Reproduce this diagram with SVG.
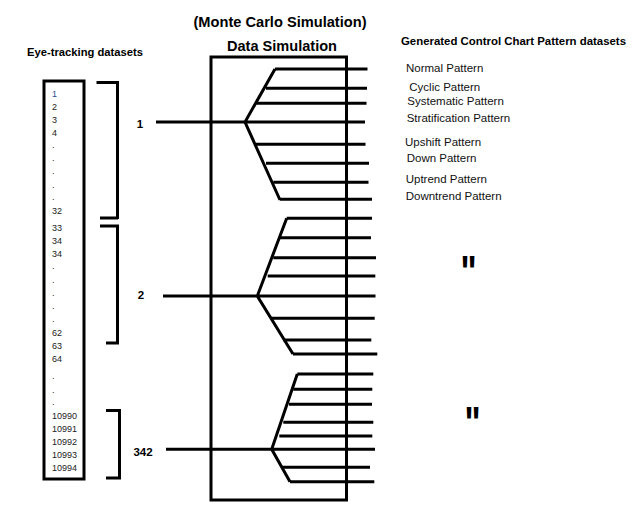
<svg xmlns="http://www.w3.org/2000/svg" width="640" height="513" viewBox="0 0 640 513">
<style>
.ln{stroke:#000;stroke-width:3;fill:none;stroke-linecap:butt}
.box{stroke:#000;stroke-width:3;fill:none}
.num{font-family:"Liberation Sans",Arial,sans-serif;font-size:9px;fill:#222}
.lab{font-family:"Liberation Sans",Arial,sans-serif;font-size:11.5px;fill:#111}
.b{font-family:"Liberation Sans",Arial,sans-serif;font-weight:bold;fill:#000}
</style>
<rect width="640" height="513" fill="#fff"/>
<g id="title">
<text class="b" x="280" y="27" font-size="15" text-anchor="middle" textLength="173" lengthAdjust="spacingAndGlyphs">(Monte Carlo Simulation)</text>
<text class="b" x="282" y="50.5" font-size="15" text-anchor="middle" textLength="110" lengthAdjust="spacingAndGlyphs">Data Simulation</text>
</g>
<g id="eye-header"><text class="b" x="27" y="56" font-size="11" textLength="116" lengthAdjust="spacingAndGlyphs">Eye-tracking datasets</text></g>
<g id="ccp-header"><text class="b" x="401" y="45" font-size="11" textLength="225" lengthAdjust="spacingAndGlyphs">Generated Control Chart Pattern datasets</text></g>
<g id="eye-list">
<rect class="box" x="44" y="81" width="40" height="398"/>
<text class="num" x="52" y="96.5" style="fill:#1f4e9a">1</text>
<text class="num" x="52" y="110">2</text>
<text class="num" x="52" y="122.5">3</text>
<text class="num" x="52" y="135.5">4</text>
<text class="num" x="52" y="148">.</text>
<text class="num" x="52" y="161">.</text>
<text class="num" x="52" y="174">.</text>
<text class="num" x="52" y="187.5">.</text>
<text class="num" x="52" y="200">.</text>
<text class="num" x="52" y="214">32</text>
<text class="num" x="52" y="230.5">33</text>
<text class="num" x="52" y="244">34</text>
<text class="num" x="52" y="256.5">34</text>
<text class="num" x="52" y="269">.</text>
<text class="num" x="52" y="282.5">.</text>
<text class="num" x="52" y="296">.</text>
<text class="num" x="52" y="309">.</text>
<text class="num" x="52" y="322">.</text>
<text class="num" x="52" y="335.5">62</text>
<text class="num" x="52" y="349">63</text>
<text class="num" x="52" y="361.5">64</text>
<text class="num" x="52" y="379">.</text>
<text class="num" x="52" y="392.5">.</text>
<text class="num" x="52" y="405">.</text>
<text class="num" x="52" y="419">10990</text>
<text class="num" x="52" y="431.5">10991</text>
<text class="num" x="52" y="445">10992</text>
<text class="num" x="52" y="457.5">10993</text>
<text class="num" x="52" y="471">10994</text>
</g>
<g id="bracket-1"><path class="ln" d="M96.5,82.5 H117.5 V219 M100,218 H118"/></g>
<g id="bracket-2"><path class="ln" d="M100,226 H117.5 V343 H106"/></g>
<g id="bracket-3"><path class="ln" d="M106,410.5 H119.5 V478 H106"/></g>
<g id="label-1"><text class="b" x="140" y="127.5" font-size="11.5" text-anchor="middle">1</text></g>
<g id="label-2"><text class="b" x="141" y="299" font-size="11.5" text-anchor="middle">2</text></g>
<g id="label-342"><text class="b" x="143" y="456" font-size="11.5" text-anchor="middle">342</text></g>
<g id="sim-box"><rect class="box" x="211" y="57" width="135.5" height="443"/></g>
<g id="patterns">
<text class="lab" x="406" y="71.8">Normal Pattern</text>
<text class="lab" x="409.3" y="90.8">Cyclic Pattern</text>
<text class="lab" x="407.3" y="104.8">Systematic Pattern</text>
<text class="lab" x="406.7" y="122.4">Stratification Pattern</text>
<text class="lab" x="405" y="146.4">Upshift Pattern</text>
<text class="lab" x="406.7" y="162.4">Down Pattern</text>
<text class="lab" x="405.7" y="183.4">Uptrend Pattern</text>
<text class="lab" x="405.7" y="199.8">Downtrend Pattern</text>
</g>
<g id="ditto-2"><text class="b" transform="translate(468.5,287.5) scale(1,1.35)" font-size="34" text-anchor="middle">"</text></g>
<g id="ditto-3"><text class="b" transform="translate(472.5,438.5) scale(1,1.35)" font-size="34" text-anchor="middle">"</text></g>
<g id="connectors">
<path class="ln" d="M156,122 H365 M275,69 L245,122 L280,200"/>
<path class="ln" d="M275,69 H367.5 M266,88.3 H367 M256.3,103.3 H366.5 M256,144.3 H365.5 M266,163.3 H369 M273.3,182.3 H368.5 M280,199.3 H372"/>
<path class="ln" d="M163,296 H375.5 M286.7,218.3 L257.3,296 L293,354"/>
<path class="ln" d="M286.7,218.3 H372 M280,237.7 H371 M273.3,257.7 H376 M267.7,276 H375.3 M270.7,318.3 H374.7 M283.3,340 H371.3 M293,354 H377.3"/>
<path class="ln" d="M166,449.3 H375 M297.3,374 L271.7,449.3 L290,481.7"/>
<path class="ln" d="M297.3,374 H373.3 M293.3,389.3 H372.3 M289,404.3 H372 M283.3,422.3 H373.3 M279.3,436 H372.3 M281.7,467.3 H370 M290,481.7 H374.3"/>
</g>
</svg>
